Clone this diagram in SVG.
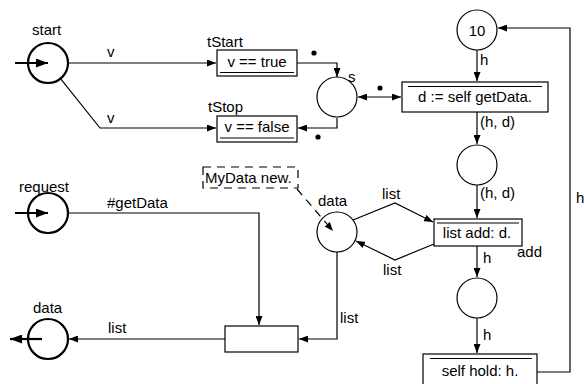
<svg xmlns="http://www.w3.org/2000/svg" width="584" height="384" viewBox="0 0 584 384">
  <style>
    text { font-family: "Liberation Sans", Arial, sans-serif; font-size: 15px; fill: #000; }
    .mid { text-anchor: middle; }
    .place { fill: #fff; stroke: #000; stroke-width: 1.2; }
    .io { fill: #fff; stroke: #000; stroke-width: 2.2; }
    .trans { fill: #fff; stroke: #000; stroke-width: 1.2; }
    .rule { stroke: #000; stroke-width: 1.2; fill: none; }
    .arc { fill: none; stroke: #000; stroke-width: 1.2; }
    .port { fill: none; stroke: #000; stroke-width: 2.2; }
    .dash { fill: none; stroke: #000; stroke-width: 1.2; stroke-dasharray: 8 6; }
  </style>
  <defs>
    <marker id="ah" viewBox="0 0 9 7" refX="9" refY="3.5" markerWidth="9" markerHeight="7" markerUnits="userSpaceOnUse" orient="auto-start-reverse">
      <path d="M0,0 L9,3.5 L0,7 z" fill="#000"/>
    </marker>
    <marker id="big" viewBox="0 0 12 9" refX="12" refY="4.5" markerWidth="12" markerHeight="9" markerUnits="userSpaceOnUse" orient="auto">
      <path d="M0,0 L12,4.5 L0,9 z" fill="#000"/>
    </marker>
  </defs>

  <!-- connectors -->
  <g id="connectors">
    <!-- start -> tStart / tStop -->
    <path class="arc" d="M68,63 H216" marker-end="url(#ah)"/>
    <path class="arc" d="M60.5,78.6 L100,128 H216" marker-end="url(#ah)"/>
    <!-- tStart -> s, s -> tStop -->
    <path class="arc" d="M297,63 H337 V77" marker-end="url(#ah)"/>
    <path class="arc" d="M337,118 V128 H298" marker-end="url(#ah)"/>
    <!-- s <-> getData -->
    <path class="arc" d="M358,97 H401" marker-start="url(#ah)" marker-end="url(#ah)"/>
    <!-- 10 -> getData -->
    <path class="arc" d="M477,50 V81" marker-end="url(#ah)"/>
    <!-- getData -> place -->
    <path class="arc" d="M477,112 V144" marker-end="url(#ah)"/>
    <!-- place -> list add -->
    <path class="arc" d="M477,185 V218" marker-end="url(#ah)"/>
    <!-- list add -> place -->
    <path class="arc" d="M477,246 V277" marker-end="url(#ah)"/>
    <!-- place -> self hold -->
    <path class="arc" d="M477,318 V353" marker-end="url(#ah)"/>
    <!-- self hold -> 10 -->
    <path class="arc" d="M537,372 H570 V28 H498" marker-end="url(#ah)"/>
    <!-- data <-> list add -->
    <path class="arc" d="M353,220 L395,203 L433,222" marker-end="url(#ah)"/>
    <path class="arc" d="M434,244 L395,260 L356,241" marker-end="url(#ah)"/>
    <!-- data -> lower transition -->
    <path class="arc" d="M337,252 V339 H299" marker-end="url(#ah)"/>
    <!-- request -> lower transition -->
    <path class="arc" d="M68,213 H259 V325" marker-end="url(#ah)"/>
    <!-- lower transition -> data output -->
    <path class="arc" d="M225,339 H69" marker-end="url(#ah)"/>
    <!-- initialisation -->
    <path class="dash" d="M297,189 L333,231" marker-end="url(#ah)"/>
    <!-- arc inscriptions -->
    <text x="107" y="57">v</text>
    <text x="107" y="123">v</text>
    <circle cx="314" cy="53" r="2.6"/>
    <circle cx="318" cy="137" r="2.6"/>
    <circle cx="380" cy="88" r="2.6"/>
    <text x="480" y="65">h</text>
    <text x="480" y="127">(h, d)</text>
    <text x="480" y="198">(h, d)</text>
    <text x="483" y="263">h</text>
    <text x="483" y="340">h</text>
    <text x="576" y="203">h</text>
    <text x="382" y="199">list</text>
    <text x="383" y="275">list</text>
    <text x="340" y="323">list</text>
    <text x="107" y="208">#getData</text>
    <text x="108" y="333">list</text>
  </g>

  <g id="start">
    <circle class="io" cx="48" cy="63" r="20"/>
    <path class="port" d="M15,63 H48" marker-end="url(#big)"/>
    <text x="32" y="35">start</text>
  </g>

  <g id="request">
    <circle class="io" cx="48" cy="213" r="20"/>
    <path class="port" d="M15,213 H48" marker-end="url(#big)"/>
    <text x="19" y="192">request</text>
  </g>

  <g id="data-out">
    <circle class="io" cx="48" cy="339" r="20"/>
    <path class="port" d="M42,339 H10" marker-end="url(#big)"/>
    <text x="33" y="313">data</text>
  </g>

  <g id="tStart">
    <rect class="trans" x="217" y="50" width="80" height="26"/>
    <line class="rule" x1="220" y1="72.5" x2="294" y2="72.5"/>
    <text class="mid" x="257" y="67">v == true</text>
    <text x="207" y="47">tStart</text>
  </g>

  <g id="tStop">
    <rect class="trans" x="217" y="116" width="80" height="26"/>
    <line class="rule" x1="220" y1="138" x2="294" y2="138"/>
    <text class="mid" x="257" y="132">v == false</text>
    <text x="208" y="112">tStop</text>
  </g>

  <g id="s">
    <circle class="place" cx="337" cy="97" r="20"/>
    <text x="348" y="82">s</text>
  </g>

  <g id="holders">
    <circle class="place" cx="477" cy="30" r="20"/>
    <text class="mid" x="477" y="35.5">10</text>
  </g>

  <g id="getData">
    <rect class="trans" x="402" y="82" width="146" height="30"/>
    <line class="rule" x1="408" y1="86.5" x2="542" y2="86.5"/>
    <text class="mid" x="475" y="102">d := self getData.</text>
  </g>

  <g id="fetched">
    <circle class="place" cx="477" cy="165" r="20"/>
  </g>

  <g id="add">
    <rect class="trans" x="434" y="219" width="88" height="27"/>
    <line class="rule" x1="437" y1="223" x2="519" y2="223"/>
    <text class="mid" x="477" y="238">list add: d.</text>
    <text x="517" y="257">add</text>
  </g>

  <g id="added">
    <circle class="place" cx="477" cy="298" r="20"/>
  </g>

  <g id="hold">
    <rect class="trans" x="423" y="354" width="114" height="40"/>
    <line class="rule" x1="430" y1="358.5" x2="532" y2="358.5"/>
    <text class="mid" x="480" y="376">self hold: h.</text>
  </g>

  <g id="data">
    <circle class="place" cx="337" cy="232" r="20" fill-opacity="0"/>
    <text x="318" y="206">data</text>
  </g>

  <g id="init">
    <rect class="dash" x="203" y="167" width="95" height="21"/>
    <text x="205" y="183">MyData new.</text>
  </g>

  <g id="reply">
    <rect class="trans" x="225" y="326" width="73" height="26"/>
  </g>
</svg>
